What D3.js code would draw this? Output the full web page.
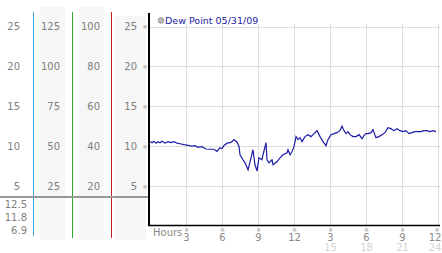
<!DOCTYPE html>
<html>
<head>
<meta charset="utf-8">
<script src="https://cdn.jsdelivr.net/npm/d3@7"></script>
<style>
  body { margin: 0; background: #fff; }
  svg { display: block; font-family: "DejaVu Sans", Verdana, sans-serif; }
</style>
</head>
<body>
<div id="chart"></div>
<script>
// readings for the dew point trace (hours since midnight, degrees)
const hours = [0, 0.17, 0.33, 0.5, 0.67, 0.83, 1.0, 1.25, 1.5, 1.75, 2.0, 2.25, 2.5, 2.83, 3.17, 3.5, 3.75, 4.0, 4.33, 4.67,
  5.0, 5.33, 5.58, 5.83, 6.0, 6.17, 6.42, 6.67, 6.83, 7.0, 7.25, 7.42, 7.5, 7.75, 7.92, 8.17, 8.42, 8.58, 8.75, 8.92,
  9.08, 9.33, 9.42, 9.67, 9.75, 9.92, 10.17, 10.25, 10.58, 10.83, 11.08, 11.42, 11.5, 11.67, 11.83, 12.0, 12.17, 12.33, 12.5, 12.67,
  12.92, 13.17, 13.42, 13.67, 13.92, 14.17, 14.42, 14.67, 14.83, 15.08, 15.33, 15.58, 15.83, 16.0, 16.17, 16.33, 16.5, 16.67, 16.92, 17.17,
  17.42, 17.67, 17.83, 18.0, 18.17, 18.42, 18.58, 18.83, 19.08, 19.33, 19.58, 19.83, 20.08, 20.33, 20.58, 20.83, 21.08, 21.33, 21.58, 21.83,
  22.08, 22.33, 22.58, 22.83, 23.08, 23.33, 23.58, 23.83];
const dewPoint = [10.6, 10.44, 10.63, 10.38, 10.57, 10.44, 10.63, 10.38, 10.57, 10.44, 10.57, 10.38, 10.31, 10.19, 10.1, 10.0, 10.06, 9.85, 9.94, 9.65,
  9.62, 9.62, 9.35, 9.81, 9.69, 10.1, 10.38, 10.44, 10.57, 10.82, 10.5, 9.97, 8.93, 8.3, 7.92, 7.04, 8.55, 9.56, 7.67, 6.9,
  8.55, 8.3, 8.93, 10.44, 8.3, 7.92, 8.3, 7.67, 8.05, 8.55, 8.93, 9.18, 9.56, 8.93, 9.3, 9.94, 11.2, 10.82, 11.07, 10.57,
  11.2, 11.45, 11.2, 11.57, 11.95, 11.2, 10.57, 10.06, 10.82, 11.45, 11.57, 11.7, 11.95, 12.5, 11.95, 11.57, 11.82, 11.45, 11.2, 11.2,
  11.45, 10.94, 11.32, 11.57, 11.57, 11.7, 12.08, 11.07, 11.2, 11.45, 11.7, 12.33, 12.2, 11.95, 12.2, 11.95, 11.82, 11.95, 11.57, 11.7,
  11.82, 11.82, 11.82, 11.95, 11.95, 11.82, 11.95, 11.82];

// side panel columns: scale maximum, tick labels
const colMax = [25, 125, 100, 25];
const colTicks = [
  [5, 10, 15, 20, 25],
  [25, 50, 75, 100, 125],
  [20, 40, 60, 80, 100],
  [5, 10, 15, 20, 25]
];
const summaryLabels = ["12.5", "11.8", "6.9"];

const yTicks = [5, 10, 15, 20, 25];
const hourTicks = [3, 6, 9, 12, 15, 18, 21, 24];
const legendText = "Dew Point 05/31/09";

const width = 442, height = 253;
const svg = d3.select("#chart").append("svg")
  .attr("width", width)
  .attr("height", height);

const x = d3.scaleLinear().domain([0, 24]).range([150, 438]);
const y = d3.scaleLinear().domain([0, 25]).range([226, 26.5]);

// grey bands behind columns 2-4
const bands = [[40, 65, 7], [79, 104, 7], [115, 146, 16]];
svg.selectAll("rect.band")
  .data(bands)
  .enter().append("rect")
  .attr("class", "band")
  .attr("x", d => d[0])
  .attr("y", d => d[2])
  .attr("width", d => d[1] - d[0])
  .attr("height", d => 240 - d[2])
  .attr("fill", "#f6f6f6");

// coloured separators
const seps = [[33, "#3aa6dc", 236], [72, "#2faa2f", 238], [111, "#c02020", 238]];
svg.selectAll("line.sep")
  .data(seps)
  .enter().append("line")
  .attr("x1", d => d[0] + 0.5).attr("x2", d => d[0] + 0.5)
  .attr("y1", 12).attr("y2", d => d[2])
  .attr("stroke", d => d[1])
  .attr("stroke-width", 1)
  .attr("shape-rendering", "crispEdges");

// side column labels
const colRight = [20, 60, 100, 137];
colTicks.forEach((ticks, i) => {
  const s = d3.scaleLinear().domain([0, colMax[i]]).range(y.range());
  svg.append("g").selectAll("text")
    .data(ticks)
    .enter().append("text")
    .attr("x", colRight[i])
    .attr("y", d => s(d) + 3.5)
    .attr("text-anchor", "end")
    .attr("font-size", 10)
    .attr("fill", "#808080")
    .text(d => d);
});

// grey divider across panels
svg.append("line")
  .attr("x1", 0).attr("x2", 148)
  .attr("y1", 197).attr("y2", 197)
  .attr("stroke", "#999")
  .attr("stroke-width", 2);

svg.append("g").selectAll("text")
  .data(summaryLabels)
  .enter().append("text")
  .attr("x", 27)
  .attr("y", (d, i) => 208 + i * 13)
  .attr("text-anchor", "end")
  .attr("font-size", 10)
  .attr("fill", "#808080")
  .text(d => d);

// grid
svg.append("g").selectAll("line")
  .data(yTicks)
  .enter().append("line")
  .attr("x1", 149).attr("x2", 440)
  .attr("y1", d => Math.round(y(d)) + 0.5).attr("y2", d => Math.round(y(d)) + 0.5)
  .attr("stroke", "#ddd");

svg.append("g").selectAll("line")
  .data(hourTicks)
  .enter().append("line")
  .attr("x1", d => Math.round(x(d)) + 0.5).attr("x2", d => Math.round(x(d)) + 0.5)
  .attr("y1", 24).attr("y2", 225)
  .attr("stroke", "#ddd");

// small tick glyphs
svg.append("g").selectAll("text")
  .data(yTicks)
  .enter().append("text")
  .attr("x", 145)
  .attr("y", d => y(d) + 2.5)
  .attr("text-anchor", "middle")
  .attr("font-size", 6)
  .attr("fill", "#999")
  .text("※");

svg.append("g").selectAll("text")
  .data(hourTicks)
  .enter().append("text")
  .attr("x", d => Math.min(x(d) + 0.5, 437))
  .attr("y", 232)
  .attr("text-anchor", "middle")
  .attr("font-size", 6)
  .attr("fill", "#999")
  .text("※");

// axes
svg.append("line")
  .attr("x1", 149).attr("x2", 149)
  .attr("y1", 13).attr("y2", 226)
  .attr("stroke", "#000").attr("stroke-width", 2);
svg.append("line")
  .attr("x1", 148).attr("x2", 440)
  .attr("y1", 225.5).attr("y2", 225.5)
  .attr("stroke", "#000").attr("stroke-width", 1.5);

// hour labels, two rows
svg.append("text")
  .attr("x", 153).attr("y", 236)
  .attr("font-size", 10)
  .attr("fill", "#888")
  .text("Hours");

svg.append("g").selectAll("text")
  .data(hourTicks)
  .enter().append("text")
  .attr("x", d => Math.min(x(d) + 0.5, 435))
  .attr("y", 241)
  .attr("text-anchor", "middle")
  .attr("font-size", 10)
  .attr("fill", "#888")
  .text(d => d > 12 ? d - 12 : d);

svg.append("g").selectAll("text")
  .data(hourTicks.filter(d => d > 12))
  .enter().append("text")
  .attr("x", d => Math.min(x(d) + 0.5, 435))
  .attr("y", 251)
  .attr("text-anchor", "middle")
  .attr("font-size", 10)
  .attr("fill", "#d4d4d4")
  .text(d => d);

// dew point line
const line = d3.line()
  .x((d, i) => x(hours[i]))
  .y(d => y(d));
svg.append("path")
  .datum(dewPoint)
  .attr("d", line)
  .attr("fill", "none")
  .attr("stroke", "#1c1ca6")
  .attr("stroke-width", 1.2);

// legend
svg.append("circle")
  .attr("cx", 161).attr("cy", 20.5).attr("r", 2.8)
  .attr("fill", "#bbb").attr("stroke", "#888").attr("stroke-width", 0.8);
svg.append("text")
  .attr("x", 165).attr("y", 24)
  .attr("font-size", 9.5)
  .attr("fill", "#2222a0")
  .text(legendText);
</script>
</body>
</html>
